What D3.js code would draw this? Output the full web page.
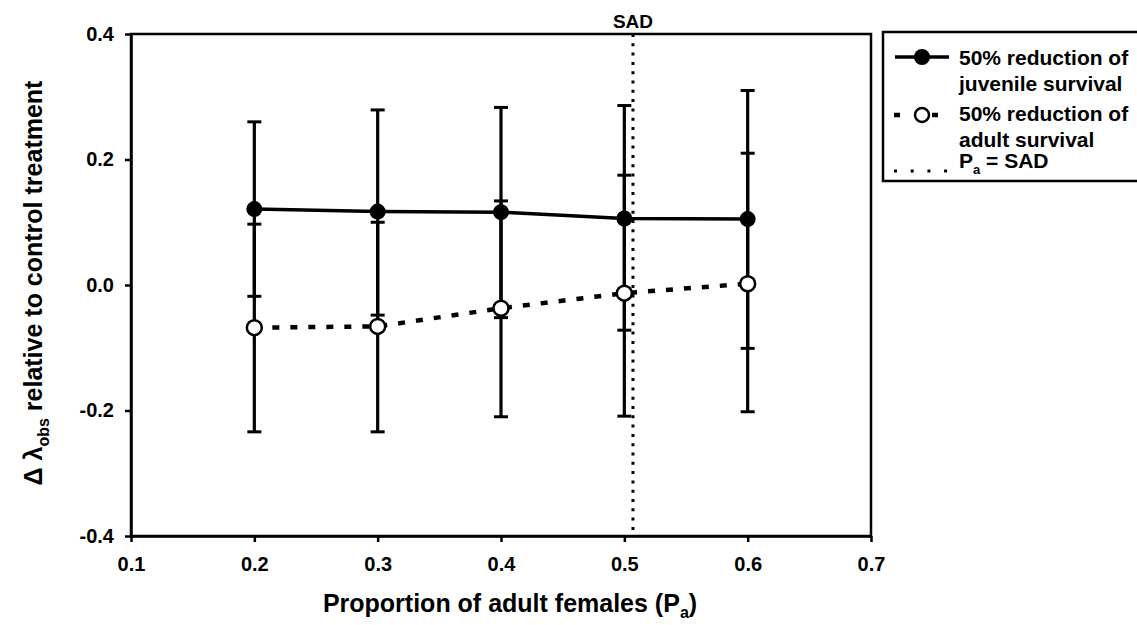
<!DOCTYPE html>
<html>
<head>
<meta charset="utf-8">
<script src="https://cdn.jsdelivr.net/npm/d3@7"></script>
<style>
  body { margin: 0; background: #fff; }
  svg { display: block; font-family: "Liberation Sans", Arial, sans-serif; }
</style>
</head>
<body>
<div id="chart"></div>
<script>
// data
var pa = [0.2, 0.3, 0.4, 0.5, 0.6];
var juvMean  = [0.121, 0.117, 0.116, 0.106, 0.105];
var juvUpper = [0.260, 0.279, 0.283, 0.286, 0.310];
var juvLower = [-0.018, -0.048, -0.052, -0.072, -0.101];
var adMean   = [-0.068, -0.066, -0.037, -0.013, 0.002];
var adUpper  = [0.097, 0.100, 0.134, 0.175, 0.210];
var adLower  = [-0.234, -0.234, -0.210, -0.209, -0.202];
var sadValue = 0.507;
var xTicks = [0.1, 0.2, 0.3, 0.4, 0.5, 0.6, 0.7];
var yTicks = [-0.4, -0.2, 0.0, 0.2, 0.4];

var svgWidth = 1137;
var svgHeight = 625;
var margin = { top: 34, right: 266, bottom: 89, left: 131 };
var width = svgWidth - margin.left - margin.right;
var height = svgHeight - margin.top - margin.bottom;

var svg = d3.select("#chart")
  .append("svg")
  .attr("width", svgWidth)
  .attr("height", svgHeight);

var chartGroup = svg.append("g")
  .attr("transform", `translate(${margin.left}, ${margin.top})`);

var x = d3.scaleLinear().domain([0.1, 0.7]).range([0, width]);
var y = d3.scaleLinear().domain([-0.4, 0.4]).range([height, 0]);

// frame
chartGroup.append("rect")
  .attr("width", width)
  .attr("height", height)
  .attr("fill", "none")
  .attr("stroke", "#000")
  .attr("stroke-width", 2.5);

// axes
var bottomAxis = d3.axisBottom(x).tickValues(xTicks).tickSize(6).tickSizeOuter(0)
  .tickPadding(15).tickFormat(d => d.toFixed(1));
var leftAxis = d3.axisLeft(y).tickValues(yTicks).tickSize(6).tickSizeOuter(0)
  .tickPadding(11).tickFormat(d => d.toFixed(1));

var gx = chartGroup.append("g")
  .attr("transform", `translate(0, ${height})`)
  .call(bottomAxis);
var gy = chartGroup.append("g").call(leftAxis);

[gx, gy].forEach(function(g) {
  g.select(".domain").attr("stroke-width", 2.5);
  g.selectAll(".tick line").attr("stroke-width", 2.5);
  g.selectAll(".tick text")
    .attr("fill", "#000")
    .attr("font-size", 20)
    .attr("font-weight", "bold")
    .attr("font-family", "'Liberation Sans', Arial, sans-serif");
});

// SAD reference line
chartGroup.append("line")
  .attr("x1", x(sadValue)).attr("x2", x(sadValue))
  .attr("y1", 0).attr("y2", height)
  .attr("stroke", "#000")
  .attr("stroke-width", 3)
  .attr("stroke-dasharray", "3,6.3");

chartGroup.append("text")
  .attr("x", x(sadValue))
  .attr("y", -6)
  .attr("text-anchor", "middle")
  .style("font-size", "19px")
  .style("font-weight", "bold")
  .text("SAD");

// error bars
function errorBars(lower, upper) {
  var g = chartGroup.append("g");
  pa.forEach(function(p, i) {
    g.append("line")
      .attr("x1", x(p)).attr("x2", x(p))
      .attr("y1", y(upper[i])).attr("y2", y(lower[i]))
      .attr("stroke", "#000").attr("stroke-width", 3.2);
    [upper[i], lower[i]].forEach(function(v) {
      g.append("line")
        .attr("x1", x(p) - 7).attr("x2", x(p) + 7)
        .attr("y1", y(v)).attr("y2", y(v))
        .attr("stroke", "#000").attr("stroke-width", 3);
    });
  });
}
errorBars(juvLower, juvUpper);
errorBars(adLower, adUpper);

var line = d3.line()
  .x((d, i) => x(pa[i]))
  .y(d => y(d));

chartGroup.append("path")
  .datum(adMean)
  .attr("d", line)
  .attr("fill", "none")
  .attr("stroke", "#000")
  .attr("stroke-width", 4.5)
  .attr("stroke-dasharray", "7,11");

chartGroup.append("path")
  .datum(juvMean)
  .attr("d", line)
  .attr("fill", "none")
  .attr("stroke", "#000")
  .attr("stroke-width", 3.5);

chartGroup.selectAll(".adPt")
  .data(adMean)
  .enter()
  .append("circle")
  .attr("class", "adPt")
  .attr("cx", (d, i) => x(pa[i]))
  .attr("cy", d => y(d))
  .attr("r", 7.5)
  .attr("fill", "#fff")
  .attr("stroke", "#000")
  .attr("stroke-width", 2.5);

chartGroup.selectAll(".juvPt")
  .data(juvMean)
  .enter()
  .append("circle")
  .attr("class", "juvPt")
  .attr("cx", (d, i) => x(pa[i]))
  .attr("cy", d => y(d))
  .attr("r", 8)
  .attr("fill", "#000");

// axis titles
var xTitle = svg.append("text")
  .attr("x", 510)
  .attr("y", 612)
  .attr("text-anchor", "middle")
  .style("font-size", "25px")
  .style("font-weight", "bold");
xTitle.append("tspan").text("Proportion of adult females (P");
xTitle.append("tspan").attr("dy", 6).style("font-size", "16px").text("a");
xTitle.append("tspan").attr("dy", -6).text(")");

var yTitle = svg.append("text")
  .attr("transform", "translate(42, 283) rotate(-90)")
  .attr("text-anchor", "middle")
  .style("font-size", "25px")
  .style("font-weight", "bold");
yTitle.append("tspan").text("\u0394 \u03bb");
yTitle.append("tspan").attr("dy", 7).style("font-size", "16px").text("obs");
yTitle.append("tspan").attr("dy", -7).text(" relative to control treatment");

// legend
var legend = svg.append("g");
legend.append("rect")
  .attr("x", 883).attr("y", 32)
  .attr("width", 270).attr("height", 149)
  .attr("fill", "#fff")
  .attr("stroke", "#000")
  .attr("stroke-width", 2.5);

legend.append("line")
  .attr("x1", 895).attr("x2", 949).attr("y1", 57).attr("y2", 57)
  .attr("stroke", "#000").attr("stroke-width", 3.5);
legend.append("circle")
  .attr("cx", 922).attr("cy", 57).attr("r", 8).attr("fill", "#000");

legend.append("line")
  .attr("x1", 894).attr("x2", 938).attr("y1", 115).attr("y2", 115)
  .attr("stroke", "#000").attr("stroke-width", 4.5)
  .attr("stroke-dasharray", "6,32,6");
legend.append("circle")
  .attr("cx", 922).attr("cy", 115).attr("r", 7)
  .attr("fill", "#fff").attr("stroke", "#000").attr("stroke-width", 2.5);

legend.append("line")
  .attr("x1", 894).attr("x2", 950).attr("y1", 171).attr("y2", 171)
  .attr("stroke", "#000").attr("stroke-width", 3)
  .attr("stroke-dasharray", "3,13.7");

var legendLines = [
  { y: 65, text: "50% reduction of" },
  { y: 91, text: "juvenile survival" },
  { y: 121, text: "50% reduction of" },
  { y: 147, text: "adult survival" }
];
legend.selectAll(".legText")
  .data(legendLines)
  .enter()
  .append("text")
  .attr("class", "legText")
  .attr("x", 959)
  .attr("y", d => d.y)
  .style("font-size", "21px")
  .style("font-weight", "bold")
  .text(d => d.text);

var sadLeg = legend.append("text")
  .attr("x", 959)
  .attr("y", 168)
  .style("font-size", "21px")
  .style("font-weight", "bold");
sadLeg.append("tspan").text("P");
sadLeg.append("tspan").attr("dy", 6).style("font-size", "13px").text("a");
sadLeg.append("tspan").attr("dy", -6).text(" = SAD");
</script>
</body>
</html>
